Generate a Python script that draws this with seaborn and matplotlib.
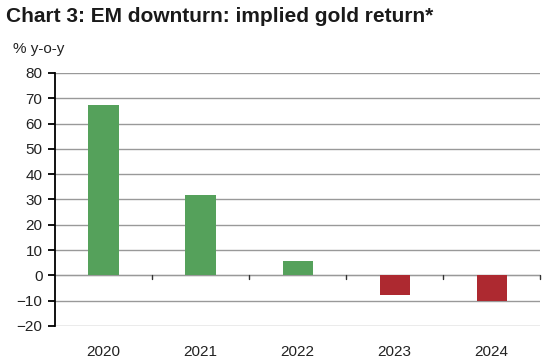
import matplotlib
matplotlib.use('Agg')
import matplotlib.pyplot as plt
import seaborn as sns
import pandas as pd

# data
years = ['2020', '2021', '2022', '2023', '2024']
gold_return = [67.5, 31.6, 5.8, -7.6, -10.0]

df = pd.DataFrame({'year': years, 'ret': gold_return})
df['sign'] = ['pos' if v >= 0 else 'neg' for v in df['ret']]

sns.set_theme(style='white')
plt.rcParams['font.family'] = ['Liberation Sans', 'DejaVu Sans']

fig = plt.figure(figsize=(5.5, 3.63), dpi=100)
ax = fig.add_axes([0.1, 0.102, 0.882, 0.697])

sns.barplot(data=df, x='year', y='ret', hue='sign',
            palette={'pos': '#55A15B', 'neg': '#AD2930'},
            saturation=1, width=0.31, dodge=False, legend=False,
            edgecolor='none', ax=ax)

ax.set_ylim(-20, 80)
ax.set_xlim(-0.5, 4.5)
ax.set_yticks(range(-20, 81, 10))
ax.grid(axis='y', color='#999999', linewidth=1.0)
ax.set_axisbelow(True)
ax.axhline(0, color='#d4d4d4', linewidth=1.0, zorder=0.5)

for s in ['top', 'right', 'bottom']:
    ax.spines[s].set_visible(False)
ax.spines['left'].set_color('black')
ax.spines['left'].set_linewidth(1.3)

ax.tick_params(axis='y', left=True, length=5, width=1.3, color='black',
               labelsize=11, labelcolor='#222222', pad=4)
ax.tick_params(axis='x', bottom=False, labelsize=11, labelcolor='#222222', pad=8)

# small separators on the zero line between categories
for xb in [0.5, 1.5, 2.5, 3.5, 4.5]:
    ax.plot([xb, xb], [0, -1.5], color='#333333', linewidth=1.0, clip_on=False)

ax.set_xlabel('')
ax.set_ylabel('')

fig.text(0.01, 0.955, 'Chart 3: EM downturn: implied gold return*',
         fontsize=15, fontweight='bold', color='#1a1a1a', va='center')
fig.text(0.024, 0.866, '% y-o-y', fontsize=11, color='#222222', va='center')

fig.savefig('out.png', dpi=100)
